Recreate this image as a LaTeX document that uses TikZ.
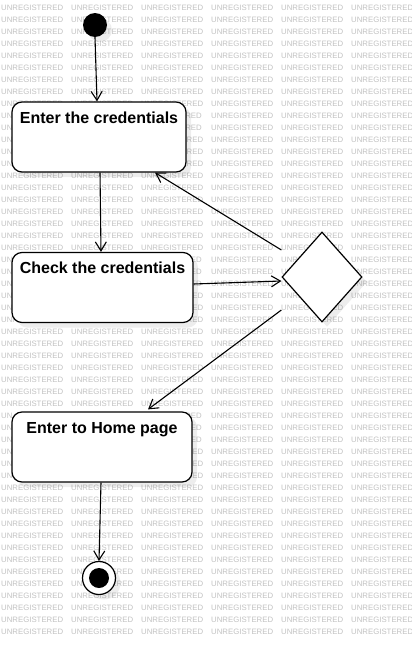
\documentclass[tikz,border=0pt]{standalone}
\usepackage{fontspec}
\setmainfont{Liberation Sans}
\usetikzlibrary{shapes.geometric,arrows.meta,shadows}
\tikzset{
  wm/.style={anchor=west,inner sep=0pt,text=black!24,font=\fontsize{7.8}{8}\selectfont},
  shad/.style={drop shadow={shadow xshift=5pt,shadow yshift=-5pt,fill=black,opacity=0.07}},
  statebox/.style={shad,draw,line width=1.2pt,fill=white,rounded corners=10pt,
    font=\bfseries\fontsize{16}{18}\selectfont,inner xsep=4pt,inner ysep=8pt,
    text height=13pt,text depth=41pt,minimum height=70pt},
  decision/.style={shad,diamond,draw,line width=1.2pt,fill=white,minimum width=80pt,
    minimum height=90pt,inner sep=0pt},
  startdot/.style={shad,circle,fill=black,minimum size=24pt,inner sep=0pt},
  endring/.style={shad,circle,draw,line width=1.2pt,fill=white,minimum size=33pt,inner sep=0pt},
  enddot/.style={circle,fill=black,minimum size=20pt,inner sep=0pt},
  flow/.style={line width=1.1pt,-{Straight Barb[length=9pt,width=11pt,line width=1.1pt]}}
}
\begin{document}
\begin{tikzpicture}[x=1pt,y=-1pt]
\useasboundingbox (0,0) rectangle (412,645);
\fill[white] (0,0) rectangle (412,645);
\foreach \r in {0,...,52}{
  \foreach \c in {0,...,5}{
    \pgfmathtruncatemacro\yy{8+12*\r}
    \pgfmathtruncatemacro\intitle{((\yy>=106)&&(\yy<=138))||((\yy>=257)&&(\yy<=289))||((\yy>=416)&&(\yy<=448))}
    \ifnum\intitle=1
      \ifnum\c=0 \node[wm] (w-\r-\c) at ({70*\c+1},\yy) {UN};\fi
      \ifnum\c=2 \node[wm,anchor=east] (w-\r-\c) at ({70*\c+62},\yy) {RED};\fi
      \ifnum\c>2 \node[wm] (w-\r-\c) at ({70*\c+1},\yy) {UNREGISTERED};\fi
    \else
      \node[wm] (w-\r-\c) at ({70*\c+1},\yy) {UNREGISTERED};
    \fi
  }
}
\node[startdot] (start) at (95,25) {};
\node[statebox,minimum width=174pt] (b1) at (99,137) {Enter the credentials};
\node[statebox,minimum width=181pt] (b2) at (102.5,287.5) {Check the credentials};
\node[decision] (dia) at (322,277) {};
\node[statebox,minimum width=180pt] (b3) at (102,447) {Enter to Home page};
\node[endring] (end) at (99,578) {};
\node[enddot] (endin) at (99,578) {};
\draw[flow] (start.south) -- ([xshift=-2pt]b1.north);
\draw[flow] ([xshift=1pt]b1.south) -- ([xshift=-1.5pt]b2.north);
\draw[flow] ([yshift=3.5pt]b2.east) -- ([yshift=-4pt]dia.west);
\draw[flow] ([yshift=27pt]dia.west) -- ([xshift=56pt]b1.south);
\draw[flow] ([yshift=-33pt]dia.west) -- ([xshift=46pt,yshift=2pt]b3.north);
\draw[flow] ([xshift=-1pt]b3.south) -- (end.north);
\end{tikzpicture}
\end{document}
